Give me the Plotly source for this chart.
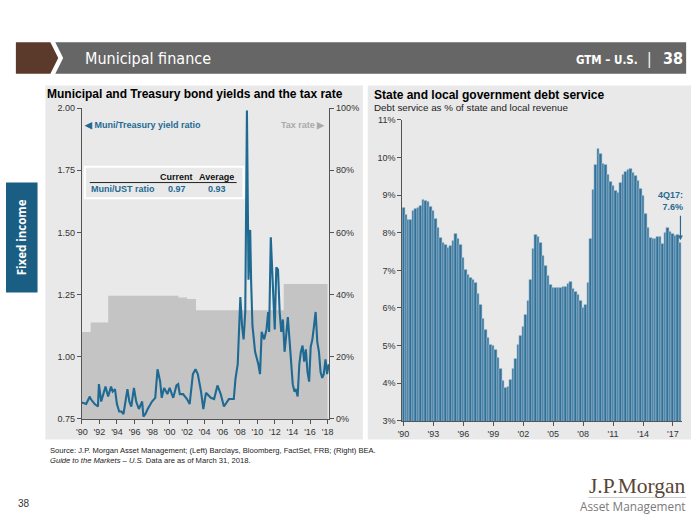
import plotly.graph_objects as go

W, H = 700, 525
def X(px): return px / W
def Y(py): return 1 - py / H

# ---------------- data: left chart ----------------
ratio_dates = [1990.00, 1990.49, 1990.90, 1991.01, 1991.46, 1991.83, 1991.94, 1992.20, 1992.69, 1992.99,
               1993.32, 1993.51, 1993.77, 1993.99, 1994.25, 1994.51, 1994.74, 1995.00, 1995.19, 1995.41,
               1995.63, 1995.93, 1996.19, 1996.49, 1996.87, 1997.01, 1997.24, 1997.50, 1997.80, 1997.99,
               1998.36, 1998.62, 1998.92, 1999.10, 1999.37, 1999.74, 2000.00, 2000.41, 2000.78, 2000.97,
               2001.16, 2001.53, 2001.98, 2002.28, 2002.65, 2002.95, 2003.21, 2003.58, 2003.84, 2004.14,
               2004.70, 2005.07, 2005.45, 2005.82, 2006.19, 2006.75, 2007.31, 2007.50, 2007.76, 2008.06,
               2008.25, 2008.43, 2008.62, 2008.81, 2008.99, 2009.18, 2009.29, 2009.44, 2009.74, 2010.11,
               2010.30, 2010.49, 2010.78, 2011.04, 2011.23, 2011.34, 2011.53, 2011.79, 2011.98, 2012.16,
               2012.35, 2012.54, 2012.72, 2012.91, 2013.10, 2013.28, 2013.47, 2013.66, 2013.84, 2014.03,
               2014.22, 2014.40, 2014.59, 2014.78, 2014.96, 2015.15, 2015.34, 2015.52, 2015.71, 2015.90,
               2016.08, 2016.27, 2016.46, 2016.64, 2016.83, 2017.02, 2017.20, 2017.39, 2017.57, 2017.76,
               2017.95, 2018.13]
ratio_values = [0.816, 0.81, 0.84, 0.83, 0.81, 0.80, 0.89, 0.82, 0.88, 0.84,
                0.88, 0.86, 0.87, 0.81, 0.78, 0.78, 0.77, 0.84, 0.87, 0.82,
                0.80, 0.875, 0.82, 0.79, 0.82, 0.76, 0.77, 0.79, 0.81, 0.82,
                0.835, 0.95, 0.90, 0.835, 0.875, 0.85, 0.875, 0.835, 0.885, 0.89,
                0.85, 0.85, 0.83, 0.81, 0.93, 0.95, 0.93, 0.86, 0.79, 0.855,
                0.835, 0.83, 0.885, 0.85, 0.80, 0.83, 0.83, 0.91, 0.97, 1.24,
                1.125, 1.07, 1.18, 1.99, 1.31, 1.51, 1.30, 1.125, 1.02, 0.97,
                0.93, 1.10, 1.07, 1.11, 1.18, 1.10, 1.48, 1.23, 1.11, 1.36,
                1.35, 1.18, 1.10, 1.15, 1.02, 1.085, 1.16, 1.07, 0.98, 0.89,
                0.86, 0.87, 0.84, 0.97, 1.02, 1.045, 0.98, 1.03, 0.94, 0.90,
                1.04, 1.07, 1.125, 1.18, 1.06, 1.02, 0.94, 0.915, 0.93, 0.99,
                0.93, 0.97]

tax_dates = [1990.0, 1991.0, 1993.0, 2001.0, 2002.0, 2003.0, 2013.0, 2018.0]
tax_values = [28.0, 31.0, 39.6, 39.1, 38.6, 35.0, 43.4, 43.4]

left_year_ticks = list(range(1990, 2019, 2))
left_year_labels = ["'" + str(y)[2:] for y in left_year_ticks]
ratio_ticks = [0.75, 1.00, 1.25, 1.50, 1.75, 2.00]
ratio_labels = ["0.75", "1.00", "1.25", "1.50", "1.75", "2.00"]
tax_ticks = [0, 20, 40, 60, 80, 100]
tax_labels = ["0%", "20%", "40%", "60%", "80%", "100%"]

# ---------------- data: right chart ----------------
debt_service = [
    8.65, 8.48, 8.35, 8.35,   # 1990
    8.57, 8.64, 8.67, 8.72,   # 1991
    8.87, 8.85, 8.81, 8.70,   # 1992
    8.59, 8.38, 8.13, 7.86,   # 1993
    7.74, 7.68, 7.61, 7.66,   # 1994
    7.79, 7.96, 7.83, 7.68,   # 1995
    7.33, 7.02, 6.89, 6.81,   # 1996
    6.75, 6.66, 6.38, 6.08,   # 1997
    5.71, 5.43, 5.20, 5.03,   # 1998
    4.99, 4.90, 4.67, 4.38,   # 1999
    4.06, 3.88, 3.92, 4.10,   # 2000
    4.38, 4.65, 5.03, 5.25,   # 2001
    5.49, 5.81, 6.18, 6.76,   # 2002
    7.57, 7.94, 7.89, 7.74,   # 2003
    7.40, 7.11, 6.86, 6.62,   # 2004
    6.53, 6.53, 6.53, 6.55,   # 2005
    6.57, 6.57, 6.64, 6.70,   # 2006
    6.50, 6.43, 6.36, 6.20,   # 2007
    6.01, 6.08, 6.68, 7.83,   # 2008
    9.13, 9.81, 10.23, 10.11, # 2009
    9.83, 9.80, 9.54, 9.35,   # 2010
    9.26, 9.11, 9.06, 9.33,   # 2011
    9.54, 9.61, 9.67, 9.70,   # 2012
    9.59, 9.50, 9.37, 9.18,   # 2013
    8.98, 8.50, 8.12, 7.86,   # 2014
    7.83, 7.83, 7.89, 7.89,   # 2015
    7.70, 8.00, 8.12, 8.03,   # 2016
    7.96, 7.93, 7.94, 7.72,   # 2017
]
first_year = 1990
quarters = [f"{i % 4 + 1}Q{(first_year + i // 4) % 100:02d}" for i in range(len(debt_service))]
quarter_x = [first_year + i / 4 + 0.125 for i in range(len(debt_service))]
right_year_ticks = list(range(1990, 2018, 3))
right_year_labels = ["'" + str(y)[2:] for y in right_year_ticks]
pct_ticks = list(range(3, 12))
pct_labels = [f"{v}%" for v in pct_ticks]

BLUE = "#1f6a93"
PANEL = "#e9e9e9"
AXC = "#555555"
FONT = "Liberation Sans, Arial, sans-serif"

fig = go.Figure()

# tax rate (base axis y, drawn underneath)
fig.add_trace(go.Scatter(x=tax_dates, y=tax_values, xaxis="x", yaxis="y",
                         mode="lines", line=dict(shape="hv", width=0, color="#c4c4c4"),
                         fill="tozeroy", fillcolor="#c4c4c4", hoverinfo="skip", showlegend=False))
# muni / treasury ratio (overlay axis y2)
fig.add_trace(go.Scatter(x=ratio_dates, y=ratio_values, xaxis="x", yaxis="y2",
                         mode="lines", line=dict(color=BLUE, width=2.1), showlegend=False))
# debt service bars
fig.add_trace(go.Bar(x=quarter_x, y=debt_service, xaxis="x3", yaxis="y3",
                     marker=dict(color="#2f7199", line=dict(width=0.6, color="#a9c3d3")), width=0.25,
                     hovertext=quarters, showlegend=False))

axis_common = dict(showline=True, linecolor=AXC, linewidth=1, ticks="outside", ticklen=4,
                   tickcolor=AXC, showgrid=False, zeroline=False,
                   tickfont=dict(family=FONT, size=9, color="#333333"))

fig.update_layout(
    width=W, height=H, margin=dict(l=0, r=0, t=0, b=0),
    paper_bgcolor="white", plot_bgcolor="rgba(0,0,0,0)",
    font=dict(family=FONT),
    bargap=0,
    xaxis=dict(domain=[X(77), X(328)], range=[1990, 2018.2], anchor="y",
               tickmode="array", tickvals=left_year_ticks, ticktext=left_year_labels, **axis_common),
    yaxis=dict(domain=[Y(422), Y(105)], range=[0, 100], side="right", anchor="x",
               tickmode="array", tickvals=tax_ticks, ticktext=tax_labels, **axis_common),
    yaxis2=dict(domain=[Y(422), Y(105)], range=[0.75, 2.0], side="left", overlaying="y", anchor="x",
                tickmode="array", tickvals=ratio_ticks, ticktext=ratio_labels, **axis_common),
    xaxis3=dict(domain=[X(402), X(686)], range=[1990, 2018.05], anchor="y3",
                tickmode="array", tickvals=[y + 0.125 for y in right_year_ticks], ticktext=right_year_labels,
                **axis_common),
    yaxis3=dict(domain=[Y(424), Y(117)], range=[3, 11], anchor="x3",
                tickmode="array", tickvals=pct_ticks, ticktext=pct_labels, **axis_common),
)

shapes = []
def rect(x0, y0, x1, y1, fill, layer="below", line=None):
    d = dict(type="rect", xref="paper", yref="paper", x0=X(x0), x1=X(x1), y0=Y(y1), y1=Y(y0),
             fillcolor=fill, layer=layer, line=dict(width=0) if line is None else line)
    shapes.append(d)

def path(pts, fill, layer="below"):
    s = "M " + " L ".join(f"{X(a):.5f},{Y(b):.5f}" for a, b in pts) + " Z"
    shapes.append(dict(type="path", xref="paper", yref="paper", path=s, fillcolor=fill,
                       line=dict(width=0), layer=layer))

# header
path([(10, 38), (45, 38), (53, 54), (45, 70), (10, 70)], "#5b3a2c")
path([(50, 38), (690, 38), (690, 70), (50, 70), (58, 54)], "#666666")
# panels
rect(40, 82, 362, 443, PANEL)
rect(367, 82, 695, 443, PANEL)
# side tab
rect(0, 181, 32, 293, "#1b5e84")
# inset box
rect(80, 165, 241, 197, "rgba(0,0,0,0)", layer="above", line=dict(color="white", width=2))
shapes.append(dict(type="line", xref="paper", yref="paper", x0=X(85), x1=X(234), y0=Y(181), y1=Y(181),
                   line=dict(color="#222222", width=1)))
# logo rule
shapes.append(dict(type="line", xref="paper", yref="paper", x0=X(591), x1=X(690), y0=Y(502), y1=Y(502),
                   line=dict(color="#bbbbbb", width=0.8)))
fig.update_layout(shapes=shapes)

ann = []
def text(x, y, s, size, color="#000000", bold=False, xanchor="left", yanchor="middle", family=FONT,
         textangle=0, align="left"):
    if bold:
        s = f"<b>{s}</b>"
    ann.append(dict(x=X(x), y=Y(y), xref="paper", yref="paper", text=s, showarrow=False,
                    xanchor=xanchor, yanchor=yanchor, textangle=textangle, align=align,
                    font=dict(size=size, color=color, family=family)))

NARROW = "Liberation Sans Narrow, DejaVu Sans Condensed, Arial Narrow, sans-serif"
text(78, 55, "Municipal finance", 16, "white", family=NARROW)
text(643, 56, "GTM – U.S.", 11.5, "white", bold=True, xanchor="right", family=NARROW)
text(653, 55, "|", 15, "white", xanchor="center", family=NARROW)
text(689, 55, "38", 16, "white", bold=True, xanchor="right", family=NARROW)

text(16, 237, "Fixed income", 11.5, "white", bold=True, xanchor="center", textangle=-90,
     family="Open Sans, sans-serif")

text(40, 91, "Municipal and Treasury bond yields and the tax rate", 12, bold=True)
text(77, 122, "◀ Muni/Treasury yield ratio", 9, BLUE, bold=True)
text(326, 122, "Tax rate ▶", 9, "#aaaaaa", bold=True, xanchor="right")

text(173, 175, "Current", 9, "#111111", bold=True, xanchor="center")
text(214, 175, "Average", 9, "#111111", bold=True, xanchor="center")
text(84, 188, "Muni/UST ratio", 9, BLUE, bold=True)
text(173, 188, "0.97", 9, BLUE, bold=True, xanchor="center")
text(214, 188, "0.93", 9, BLUE, bold=True, xanchor="center")

text(371, 92, "State and local government debt service", 12, bold=True)
text(371, 104, "Debt service as % of state and local revenue", 9.8, "#222222")

text(689, 200, "4Q17:<br>7.6%", 9, "#2a6a90", bold=True, xanchor="right", align="right")
ann.append(dict(x=quarter_x[-1], y=debt_service[-1] + 0.08, xref="x3", yref="y3", text="",
                showarrow=True, arrowhead=2, arrowsize=0.8, arrowwidth=1.2, arrowcolor="#2a6a90",
                ax=0, ay=-26))

text(43, 459, "Source: J.P. Morgan Asset Management; (Left) Barclays, Bloomberg, FactSet, FRB; (Right) BEA.<br>"
     "<i>Guide to the Markets – U.S.</i> Data are as of March 31, 2018.", 7.6, "#222222")

text(10, 508, "38", 10, "#333333")
text(692, 490, "J.P.Morgan", 21.5, "#5a4536", xanchor="right", family="Liberation Serif, DejaVu Serif, serif")
text(692, 511, "Asset Management", 11.8, "#7a7a7a", xanchor="right", family="Open Sans, sans-serif")

fig.update_layout(annotations=ann)
fig.write_html("out.html")
